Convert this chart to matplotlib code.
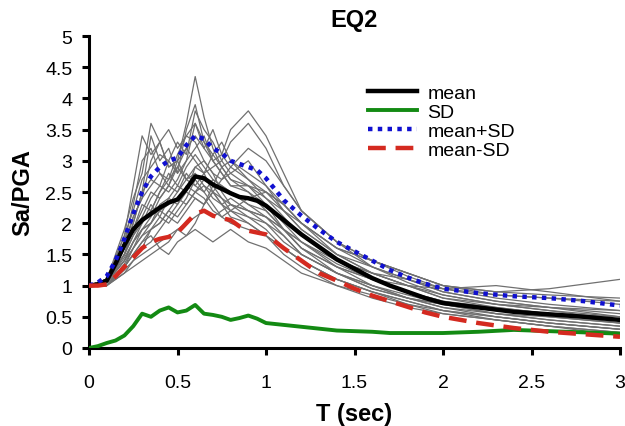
import matplotlib
matplotlib.use("Agg")
import matplotlib.pyplot as plt

plt.rcParams['font.family'] = ['Liberation Sans', 'DejaVu Sans']

# Period grid for individual records
T_rec = [0, 0.1, 0.2, 0.25, 0.3, 0.35, 0.4, 0.45, 0.5, 0.55, 0.6, 0.65, 0.7, 0.75,
         0.8, 0.9, 1.0, 1.1, 1.2, 1.4, 1.6, 1.8, 2.0, 2.3, 2.6, 3.0]

records = [
    [1, 1.1, 1.8, 2.6, 3.4, 3.1, 3.3, 2.9, 3.0, 2.7, 2.8, 2.6, 2.5, 2.3, 2.4, 2.2, 2.0, 1.8, 1.5, 1.2, 1.0, 0.8, 0.7, 0.55, 0.5, 0.4],
    [1, 1.05, 1.5, 2.0, 2.5, 3.4, 3.0, 3.2, 2.8, 3.5, 3.9, 3.3, 3.0, 2.8, 2.6, 2.5, 2.3, 1.9, 1.7, 1.3, 1.1, 0.9, 0.75, 0.6, 0.5, 0.4],
    [1, 1.0, 1.3, 1.6, 1.9, 2.1, 2.4, 2.6, 3.0, 3.6, 4.35, 3.7, 3.2, 2.9, 2.7, 2.5, 2.2, 1.9, 1.6, 1.3, 1.0, 0.85, 0.7, 0.55, 0.45, 0.35],
    [1, 1.1, 1.6, 2.1, 2.4, 2.6, 2.8, 2.7, 3.1, 3.4, 3.6, 3.2, 3.0, 3.1, 3.5, 3.8, 3.4, 2.8, 2.2, 1.7, 1.3, 1.1, 0.9, 0.75, 0.65, 0.55],
    [1, 1.05, 1.4, 1.7, 1.9, 2.0, 2.2, 2.1, 2.3, 2.5, 2.4, 2.3, 2.5, 2.7, 2.9, 3.2, 3.0, 2.6, 2.2, 1.7, 1.4, 1.2, 1.0, 0.85, 0.8, 0.7],
    [1, 1.0, 1.2, 1.4, 1.5, 1.6, 1.7, 1.8, 1.9, 2.0, 2.1, 2.2, 2.1, 2.2, 2.3, 2.2, 2.1, 1.9, 1.6, 1.3, 1.1, 1.0, 0.95, 1.0, 0.9, 0.75],
    [1, 1.1, 1.7, 2.3, 3.0, 3.2, 2.8, 2.6, 2.5, 2.7, 2.9, 2.8, 2.5, 2.4, 2.2, 2.0, 1.8, 1.5, 1.3, 1.0, 0.85, 0.7, 0.6, 0.5, 0.4, 0.3],
    [1, 1.05, 1.5, 1.8, 2.1, 2.4, 2.6, 2.5, 2.7, 3.0, 3.2, 3.4, 3.0, 2.8, 2.6, 2.6, 2.4, 2.2, 2.0, 1.6, 1.4, 1.2, 1.0, 0.9, 0.95, 1.1],
    [1, 1.0, 1.3, 1.5, 1.7, 1.8, 1.6, 1.7, 1.9, 1.8, 2.0, 2.3, 2.5, 2.3, 2.1, 2.0, 1.8, 1.6, 1.4, 1.1, 0.9, 0.75, 0.6, 0.5, 0.4, 0.3],
    [1, 1.1, 1.9, 2.4, 2.8, 3.6, 3.3, 3.5, 3.2, 3.4, 3.3, 3.0, 2.8, 2.7, 2.8, 3.0, 2.6, 2.2, 1.9, 1.5, 1.3, 1.1, 0.95, 0.85, 0.8, 0.75],
    [1, 1.05, 1.4, 1.6, 1.8, 1.9, 2.0, 2.2, 2.4, 2.3, 2.5, 2.6, 2.4, 2.3, 2.2, 2.1, 2.0, 1.7, 1.5, 1.2, 0.95, 0.8, 0.65, 0.5, 0.4, 0.3],
    [1, 1.0, 1.2, 1.3, 1.4, 1.5, 1.6, 1.5, 1.7, 1.8, 1.9, 1.8, 1.7, 1.8, 1.9, 1.7, 1.6, 1.4, 1.2, 1.0, 0.8, 0.65, 0.55, 0.45, 0.35, 0.25],
    [1, 1.1, 1.6, 1.9, 2.2, 2.5, 2.4, 2.6, 2.9, 2.7, 2.6, 2.8, 3.1, 3.3, 3.0, 2.7, 2.4, 2.1, 1.8, 1.4, 1.2, 1.0, 0.85, 0.7, 0.65, 0.6],
    [1, 1.05, 1.5, 1.9, 2.3, 2.2, 2.5, 2.8, 2.6, 2.9, 3.1, 2.9, 2.7, 2.6, 2.5, 2.3, 2.1, 1.9, 1.7, 1.4, 1.2, 1.1, 0.9, 0.75, 0.65, 0.5],
    [1, 1.0, 1.3, 1.5, 1.6, 1.9, 2.1, 2.0, 2.2, 2.4, 2.7, 2.5, 2.3, 2.1, 2.2, 2.4, 2.5, 2.3, 2.0, 1.6, 1.3, 1.05, 0.85, 0.7, 0.6, 0.5],
    [1, 1.1, 1.8, 2.2, 2.7, 2.9, 3.1, 3.0, 2.8, 3.0, 3.6, 3.3, 3.1, 2.9, 2.7, 2.6, 2.5, 2.2, 1.9, 1.5, 1.2, 1.0, 0.8, 0.7, 0.6, 0.45],
    [1, 1.05, 1.4, 1.7, 2.0, 2.3, 2.1, 2.4, 2.6, 2.5, 2.9, 3.0, 2.8, 2.5, 2.3, 2.1, 1.9, 1.6, 1.4, 1.1, 0.9, 0.75, 0.6, 0.45, 0.35, 0.25],
    [1, 1.0, 1.25, 1.4, 1.6, 1.7, 1.9, 2.1, 2.0, 2.2, 2.4, 2.3, 2.6, 2.9, 3.0, 2.8, 2.6, 2.3, 2.0, 1.5, 1.2, 1.0, 0.8, 0.65, 0.55, 0.4],
    [1, 1.1, 1.7, 2.1, 2.4, 3.0, 3.3, 2.9, 3.0, 3.2, 3.4, 3.2, 3.5, 3.1, 2.9, 2.7, 2.5, 2.3, 2.0, 1.6, 1.4, 1.2, 1.0, 0.9, 0.85, 0.8],
    [1, 1.05, 1.45, 1.7, 1.9, 2.0, 2.3, 2.4, 2.3, 2.6, 2.5, 2.4, 2.2, 2.1, 2.0, 1.9, 1.8, 1.6, 1.4, 1.1, 0.9, 0.7, 0.55, 0.45, 0.35, 0.2],
    [1, 1.05, 1.6, 2.0, 2.5, 2.7, 2.6, 3.0, 3.3, 3.1, 3.8, 3.5, 3.3, 3.0, 2.8, 2.6, 2.3, 2.0, 1.7, 1.35, 1.1, 0.9, 0.75, 0.65, 0.55, 0.45],
    [1, 1.0, 1.35, 1.6, 1.8, 2.0, 2.2, 2.3, 2.5, 2.8, 2.6, 2.5, 2.7, 2.6, 2.5, 2.3, 2.2, 1.9, 1.6, 1.2, 1.0, 0.8, 0.65, 0.55, 0.45, 0.35],
    [1, 1.1, 1.5, 1.8, 2.0, 2.2, 2.5, 2.7, 2.9, 3.2, 3.0, 2.8, 2.9, 3.0, 3.3, 3.6, 3.2, 2.6, 2.2, 1.7, 1.4, 1.15, 0.95, 0.8, 0.7, 0.6],
    [1, 1.05, 1.3, 1.5, 1.7, 1.9, 2.0, 2.2, 2.1, 2.3, 2.5, 2.7, 2.6, 2.4, 2.3, 2.2, 2.1, 1.8, 1.5, 1.2, 0.95, 0.8, 0.7, 0.6, 0.55, 0.5],
]

# Period grid for statistics
T_stat = [0, 0.05, 0.1, 0.15, 0.2, 0.25, 0.3, 0.35, 0.4, 0.45, 0.5, 0.55, 0.6, 0.65, 0.7,
          0.75, 0.8, 0.85, 0.9, 0.95, 1.0, 1.1, 1.2, 1.3, 1.4, 1.5, 1.6, 1.7, 1.8, 1.9,
          2.0, 2.2, 2.4, 2.6, 2.8, 3.0]

mean = [1.0, 1.02, 1.08, 1.35, 1.65, 1.9, 2.05, 2.15, 2.25, 2.33, 2.38, 2.55, 2.75, 2.72, 2.62,
        2.55, 2.48, 2.42, 2.4, 2.36, 2.28, 2.05, 1.82, 1.62, 1.42, 1.27, 1.12, 1.0, 0.9, 0.8,
        0.72, 0.65, 0.58, 0.54, 0.5, 0.45]
sd = [0.0, 0.03, 0.08, 0.12, 0.2, 0.35, 0.55, 0.5, 0.6, 0.65, 0.57, 0.6, 0.69, 0.55, 0.53,
      0.5, 0.45, 0.48, 0.52, 0.47, 0.4, 0.37, 0.34, 0.31, 0.28, 0.27, 0.26, 0.24, 0.24, 0.24,
      0.24, 0.26, 0.29, 0.27, 0.25, 0.23]
mean_plus = [1.0, 1.05, 1.15, 1.4, 1.75, 2.15, 2.5, 2.75, 2.9, 3.0, 3.05, 3.25, 3.4, 3.35, 3.2,
             3.12, 3.0, 2.95, 2.9, 2.85, 2.72, 2.37, 2.12, 1.9, 1.7, 1.55, 1.4, 1.25, 1.13, 1.03,
             0.95, 0.88, 0.83, 0.8, 0.75, 0.68]
mean_minus = [1.0, 1.0, 1.02, 1.15, 1.3, 1.45, 1.6, 1.7, 1.75, 1.78, 1.85, 2.0, 2.15, 2.2, 2.12,
              2.08, 2.05, 1.95, 1.88, 1.85, 1.82, 1.6, 1.4, 1.2, 1.08, 0.95, 0.84, 0.75, 0.66, 0.57,
              0.5, 0.4, 0.32, 0.26, 0.22, 0.18]

x_ticks = [0, 0.5, 1, 1.5, 2, 2.5, 3]
x_tick_labels = ['0', '0.5', '1', '1.5', '2', '2.5', '3']
y_ticks = [0, 0.5, 1, 1.5, 2, 2.5, 3, 3.5, 4, 4.5, 5]
y_tick_labels = ['0', '0.5', '1', '1.5', '2', '2.5', '3', '3.5', '4', '4.5', '5']

fig = plt.figure(figsize=(6.25, 4.27), dpi=100)
ax = fig.add_axes([89/625, 1-349/427, (620-89)/625, (349-37)/427])

for r in records:
    ax.plot(T_rec, r, color='#707070', lw=0.9, zorder=1)

ax.plot(T_stat, mean, color='black', lw=3.2, label='mean', zorder=3)
ax.plot(T_stat, sd, color='#138a13', lw=2.8, label='SD', zorder=3)
ax.plot(T_stat, mean_plus, color='#1010d0', lw=3.2, ls=(0, (1, 1.2)), label='mean+SD', zorder=3)
ax.plot(T_stat, mean_minus, color='#d42a20', lw=3.2, ls=(0, (4, 2.2)), label='mean-SD', zorder=3)

ax.set_xlim(0, 3)
ax.set_ylim(0, 5)
ax.set_xticks(x_ticks)
ax.set_xticklabels(x_tick_labels)
ax.set_yticks(y_ticks)
ax.set_yticklabels(y_tick_labels)
ax.spines['top'].set_visible(False)
ax.spines['right'].set_visible(False)
for s in ['left', 'bottom']:
    ax.spines[s].set_linewidth(2.2)
ax.tick_params(axis='both', which='major', labelsize=14, width=2.2, length=5, direction='out')
ax.tick_params(axis='x', pad=14)
ax.tick_params(axis='y', pad=7)

ax.set_title('EQ2', fontsize=17, fontweight='bold', pad=7)
ax.set_xlabel('T (sec)', fontsize=17, fontweight='bold', labelpad=8)
ax.set_ylabel('Sa/PGA', fontsize=17, fontweight='bold', labelpad=8)

leg = ax.legend(loc='upper left', bbox_to_anchor=(368/625, 1-85/427), bbox_transform=fig.transFigure,
                frameon=False, fontsize=14, handlelength=2.5, labelspacing=0.08, handletextpad=0.55,
                borderaxespad=0, borderpad=0)

fig.savefig('out.png', dpi=100)
